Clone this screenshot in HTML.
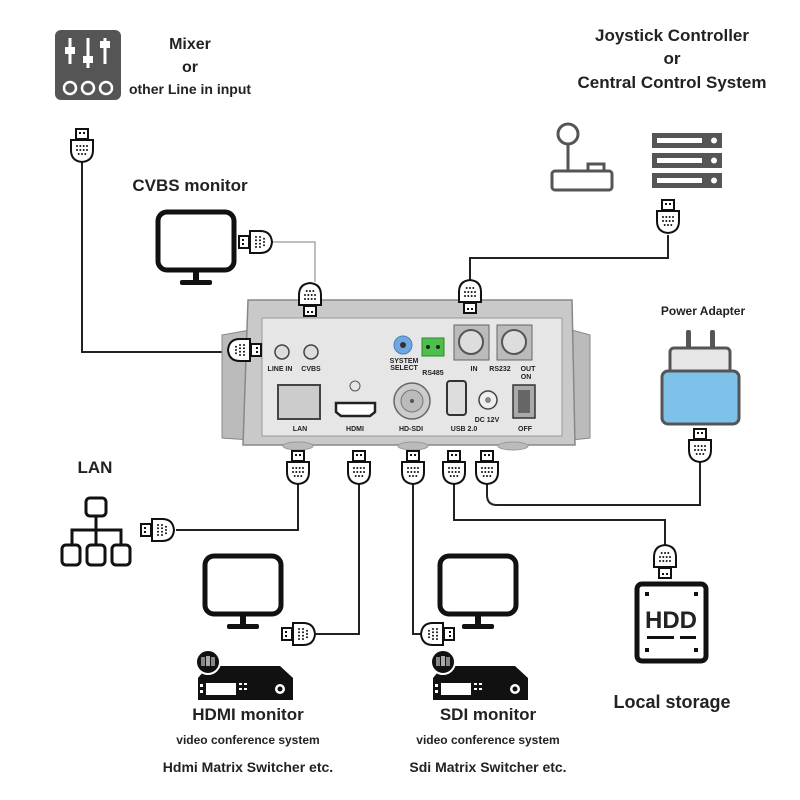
<!DOCTYPE html>
<html><head><meta charset="utf-8"><style>
html,body{margin:0;padding:0;background:#fff}
svg{display:block}
text{font-family:"Liberation Sans",sans-serif;font-weight:bold;fill:#222;text-anchor:middle}
</style></head><body>
<svg width="800" height="800" viewBox="0 0 800 800">
<defs>
<g id="plug">
<rect x="-6" y="-11" width="12" height="10" fill="#fff" stroke="#111" stroke-width="2"/>
<rect x="-3" y="-8" width="2" height="2" fill="#111"/><rect x="1" y="-8" width="2" height="2" fill="#111"/>
<path d="M-11,0 H11 V10 Q11,21 0,22 Q-11,21 -11,10 Z" fill="#fff" stroke="#111" stroke-width="2"/>
<g fill="#111"><circle cx="-5" cy="6" r="1"/><circle cx="-1.7" cy="6" r="1"/><circle cx="1.7" cy="6" r="1"/><circle cx="5" cy="6" r="1"/>
<circle cx="-5" cy="10" r="1"/><circle cx="-1.7" cy="10" r="1"/><circle cx="1.7" cy="10" r="1"/><circle cx="5" cy="10" r="1"/>
<circle cx="-3.3" cy="14" r="1"/><circle cx="0" cy="14" r="1"/><circle cx="3.3" cy="14" r="1"/></g>
</g>
<g id="mon">
<rect x="0" y="0" width="76" height="58" rx="9" fill="none" stroke="#111" stroke-width="5"/>
<rect x="35" y="58" width="6" height="12" fill="#111"/><rect x="22" y="68" width="32" height="5" rx="2" fill="#111"/>
</g>
<g id="rec">
<path d="M10,8 H82 L95,20 V42 H0 V20 Z" fill="#111"/>
<rect x="8" y="25" width="30" height="12" fill="#fff"/>
<rect x="2" y="26" width="3" height="3" fill="#fff"/><rect x="2" y="32" width="3" height="3" fill="#fff"/>
<rect x="41" y="25" width="3" height="2" fill="#fff"/><rect x="46" y="25" width="3" height="2" fill="#fff"/><rect x="41" y="30" width="3" height="2" fill="#fff"/><rect x="46" y="30" width="3" height="2" fill="#fff"/>
<circle cx="82" cy="31" r="5" fill="#fff"/><circle cx="82" cy="31" r="2.5" fill="#111"/>
<circle cx="10" cy="4" r="12" fill="#111" stroke="#fff" stroke-width="2"/>
<rect x="3" y="-1" width="4" height="9" fill="#888"/><rect x="8" y="-2" width="4" height="10" fill="#aaa"/><rect x="13" y="-1" width="4" height="9" fill="#888"/>
</g>
</defs>

<!-- cables -->
<g fill="none" stroke="#222" stroke-width="2">
<path d="M82,162 V352 H240"/>
<path d="M668,235 V258 H470 V280" />
<path d="M298,484 V530 H176"/>
<path d="M359,484 V634 H316"/>
<path d="M413,484 V634 H421"/>
<path d="M454,484 V520 H665 V545"/>
<path d="M487,484 V495 Q487,505 497,505 H700 V462"/>
</g>
<path d="M272,242 H315 V282" fill="none" stroke="#aaa" stroke-width="1.5"/>

<!-- mixer -->
<rect x="55" y="30" width="66" height="70" rx="6" fill="#555"/>
<g stroke="#fff" stroke-width="3" fill="#fff">
<line x1="70" y1="38" x2="70" y2="64"/><rect x="65" y="47" width="10" height="7" stroke="none"/>
<line x1="88" y1="38" x2="88" y2="68"/><rect x="83" y="56" width="10" height="7" stroke="none"/>
<line x1="105" y1="38" x2="105" y2="64"/><rect x="100" y="41" width="10" height="7" stroke="none"/>
</g>
<g fill="none" stroke="#fff" stroke-width="2.5"><circle cx="70" cy="88" r="6"/><circle cx="88" cy="88" r="6"/><circle cx="106" cy="88" r="6"/></g>
<text x="190" y="49" font-size="16">Mixer</text>
<text x="190" y="72" font-size="16">or</text>
<text x="190" y="94" font-size="14">other Line in input</text>

<use href="#plug" x="82" y="140"/>

<text x="190" y="191" font-size="17">CVBS monitor</text>
<use href="#mon" x="158" y="212"/>
<use href="#plug" transform="translate(250,242) rotate(-90)"/>

<!-- joystick / server -->
<text x="672" y="41" font-size="17">Joystick Controller</text>
<text x="672" y="64" font-size="17">or</text>
<text x="672" y="88" font-size="17">Central Control System</text>
<circle cx="568" cy="134" r="10" fill="none" stroke="#555" stroke-width="3"/>
<line x1="568" y1="144" x2="568" y2="171" stroke="#555" stroke-width="3"/>
<rect x="588" y="164" width="16" height="7" fill="none" stroke="#555" stroke-width="3"/>
<rect x="552" y="171" width="60" height="19" rx="3" fill="none" stroke="#555" stroke-width="3"/>
<g fill="#555"><rect x="652" y="133" width="70" height="15"/><rect x="652" y="153" width="70" height="15"/><rect x="652" y="173" width="70" height="15"/></g>
<g fill="#fff"><rect x="657" y="138" width="45" height="5"/><rect x="657" y="158" width="45" height="5"/><rect x="657" y="178" width="45" height="5"/>
<circle cx="714" cy="140.5" r="3"/><circle cx="714" cy="160.5" r="3"/><circle cx="714" cy="180.5" r="3"/></g>
<use href="#plug" x="668" y="211"/>

<!-- camera -->
<path d="M222,335 L250,330 V440 L222,438 Z" fill="#bbb" stroke="#888"/>
<path d="M590,335 L572,330 V440 L590,438 Z" fill="#bbb" stroke="#888"/>
<path d="M248,300 H572 L575,445 H243 Z" fill="#c9c9c9" stroke="#888" stroke-width="1.5"/>
<rect x="262" y="318" width="300" height="118" fill="#e6e6e6" stroke="#999"/>
<g fill="#bbb" stroke="#999"><ellipse cx="298" cy="446" rx="15" ry="4"/><ellipse cx="413" cy="446" rx="15" ry="4"/><ellipse cx="513" cy="446" rx="15" ry="4"/></g>
<circle cx="282" cy="352" r="7" fill="#ddd" stroke="#444" stroke-width="1.5"/>
<circle cx="311" cy="352" r="7" fill="#ddd" stroke="#444" stroke-width="1.5"/>
<g font-size="7"><text x="280" y="371">LINE IN</text><text x="311" y="371">CVBS</text>
<text x="404" y="363">SYSTEM</text><text x="404" y="370">SELECT</text><text x="433" y="375">RS485</text>
<text x="474" y="371">IN</text><text x="500" y="371">RS232</text><text x="528" y="371">OUT</text><text x="526" y="379">ON</text>
<text x="300" y="431">LAN</text><text x="355" y="431">HDMI</text><text x="411" y="431">HD-SDI</text><text x="464" y="431">USB 2.0</text>
<text x="487" y="422">DC 12V</text><text x="525" y="431">OFF</text></g>
<circle cx="403" cy="345" r="9" fill="#6fa8e0" stroke="#4a7fb8"/><circle cx="403" cy="345" r="3" fill="#333"/>
<rect x="422" y="338" width="22" height="18" fill="#4cbf4c" stroke="#2a8a2a"/>
<circle cx="428" cy="347" r="2" fill="#222"/><circle cx="438" cy="347" r="2" fill="#222"/>
<rect x="454" y="325" width="35" height="35" fill="#bbb" stroke="#666"/><circle cx="471" cy="342" r="12" fill="#ddd" stroke="#555" stroke-width="2"/>
<rect x="497" y="325" width="35" height="35" fill="#bbb" stroke="#666"/><circle cx="514" cy="342" r="12" fill="#ddd" stroke="#555" stroke-width="2"/>
<rect x="278" y="385" width="42" height="34" fill="#ccc" stroke="#444" stroke-width="2"/>
<circle cx="355" cy="386" r="5" fill="none" stroke="#555"/>
<path d="M336,403 H375 V412 L370,416 H341 L336,412 Z" fill="#fff" stroke="#222" stroke-width="2.5"/>
<circle cx="412" cy="401" r="18" fill="#ccc" stroke="#666" stroke-width="1.5"/><circle cx="412" cy="401" r="11" fill="#bbb" stroke="#777"/><circle cx="412" cy="401" r="2" fill="#555"/>
<rect x="447" y="381" width="19" height="34" rx="3" fill="#ddd" stroke="#333" stroke-width="2"/>
<circle cx="488" cy="400" r="9" fill="#eee" stroke="#444" stroke-width="1.5"/><circle cx="488" cy="400" r="3" fill="#888"/>
<rect x="513" y="385" width="22" height="33" fill="#aaa" stroke="#333" stroke-width="1.5"/><rect x="518" y="390" width="12" height="23" fill="#666"/>

<use href="#plug" transform="translate(250,350) rotate(90)"/>
<use href="#plug" transform="translate(310,305) rotate(180)"/>
<use href="#plug" transform="translate(470,302) rotate(180)"/>

<!-- bottom plugs -->
<use href="#plug" x="298" y="462"/>
<use href="#plug" x="359" y="462"/>
<use href="#plug" x="413" y="462"/>
<use href="#plug" x="454" y="462"/>
<use href="#plug" x="487" y="462"/>

<!-- power adapter -->
<text x="703" y="315" font-size="12">Power Adapter</text>
<rect x="686" y="330" width="5" height="20" rx="2" fill="#555"/><rect x="710" y="330" width="5" height="20" rx="2" fill="#555"/>
<rect x="670" y="348" width="60" height="25" rx="4" fill="#e6e6e6" stroke="#555" stroke-width="3"/>
<rect x="662" y="371" width="77" height="53" rx="6" fill="#7ec2ea" stroke="#555" stroke-width="3"/>
<use href="#plug" x="700" y="440"/>

<!-- LAN -->
<text x="95" y="473" font-size="17">LAN</text>
<g fill="none" stroke="#111" stroke-width="3">
<rect x="86" y="498" width="20" height="18" rx="4"/>
<path d="M96,516 V545 M72,545 V530 H121 V545"/>
<rect x="62" y="545" width="18" height="20" rx="4"/><rect x="87" y="545" width="18" height="20" rx="4"/><rect x="112" y="545" width="18" height="20" rx="4"/>
</g>
<use href="#plug" transform="translate(152,530) rotate(-90)"/>

<!-- HDMI -->
<use href="#mon" x="205" y="556"/>
<use href="#plug" transform="translate(293,634) rotate(-90)"/>
<use href="#rec" x="198" y="658"/>
<text x="248" y="720" font-size="17">HDMI monitor</text>
<text x="248" y="744" font-size="12" font-weight="normal">video conference system</text>
<text x="248" y="772" font-size="14">Hdmi Matrix Switcher etc.</text>

<!-- SDI -->
<use href="#mon" x="440" y="556"/>
<use href="#plug" transform="translate(443,634) rotate(90)"/>
<use href="#rec" x="433" y="658"/>
<text x="488" y="720" font-size="17">SDI monitor</text>
<text x="488" y="744" font-size="12" font-weight="normal">video conference system</text>
<text x="488" y="772" font-size="14">Sdi Matrix Switcher etc.</text>

<!-- HDD -->
<use href="#plug" transform="translate(665,567) rotate(180)"/>
<rect x="637" y="584" width="69" height="77" rx="5" fill="none" stroke="#111" stroke-width="5"/>
<g fill="#111"><rect x="645" y="592" width="4" height="4"/><rect x="694" y="592" width="4" height="4"/><rect x="645" y="648" width="4" height="4"/><rect x="694" y="648" width="4" height="4"/>
<rect x="647" y="636" width="27" height="3"/><rect x="680" y="636" width="16" height="3"/></g>
<text x="671" y="628" font-size="24" fill="#111">HDD</text>
<text x="672" y="708" font-size="18">Local storage</text>
</svg>
</body></html>
